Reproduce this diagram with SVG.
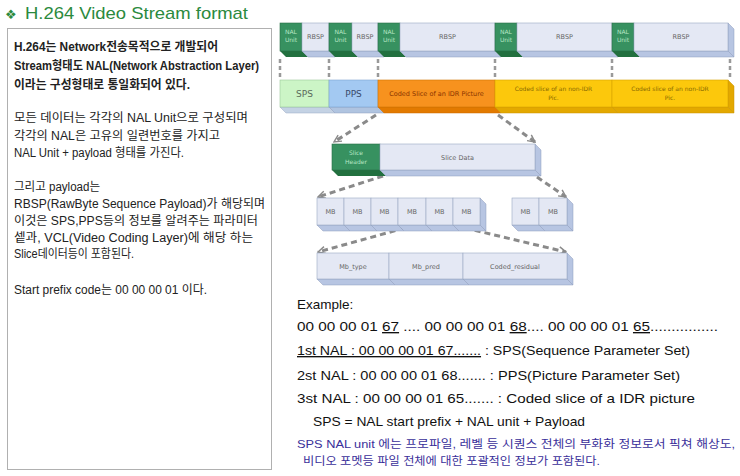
<svg xmlns="http://www.w3.org/2000/svg" width="740" height="476" viewBox="0 0 740 476">
<defs>
<style>
.kr{font-family:'Liberation Sans','Noto Sans CJK KR',sans-serif;font-size:12px;fill:#222}
.b{font-weight:bold}
.ex{font-family:'Liberation Sans','Noto Sans CJK KR',sans-serif;font-size:13.5px;fill:#111}
.note{font-family:'Liberation Sans','Noto Sans CJK KR',sans-serif;font-size:11px;fill:#3a2f9a}
.lbl{font-family:'DejaVu Sans',sans-serif;font-size:6.5px;fill:#666;text-anchor:middle}
.nl{font-family:'DejaVu Sans',sans-serif;font-size:6px;fill:#b6e6c4;text-anchor:middle}
.nal{fill:#379160;stroke:#2a7048;stroke-width:0.6}
.nalb{fill:#22703f}
.rb{fill:#e4e8f4;stroke:#9aa8c4;stroke-width:0.6}
.rbb{fill:#b7c5e2;stroke:#8e9dbc;stroke-width:0.5}
.dv{stroke:#999;stroke-width:2.5;stroke-dasharray:4 3;fill:none}
.dd{stroke:#8a8a8a;stroke-width:3;stroke-dasharray:6 4;fill:none}
</style>
<marker id="ah" viewBox="0 0 10 10" refX="9" refY="5" markerWidth="9" markerHeight="9" markerUnits="userSpaceOnUse" orient="auto">
<path d="M1,1 L9,5 L1,9" fill="none" stroke="#8a8a8a" stroke-width="1.6" stroke-dasharray="none"/>
</marker>
</defs>
<rect width="740" height="476" fill="#fff"/>

<g id="title">
<text x="5" y="19" font-family="'DejaVu Sans',sans-serif" font-size="13" fill="#2b8a3e">❖</text>
<text x="25" y="19" font-family="'Liberation Sans',sans-serif" font-size="17" fill="#2b8a3e" textLength="223" lengthAdjust="spacingAndGlyphs">H.264 Video Stream format</text>
</g>

<g id="left-panel">
<rect x="7.5" y="28.5" width="264" height="441" fill="#fff" stroke="#b0b0b0" stroke-width="1"/>
<text class="kr b" x="14" y="51" textLength="204" lengthAdjust="spacingAndGlyphs">H.264는 Network전송목적으로 개발되어</text>
<text class="kr b" x="14" y="70" textLength="245" lengthAdjust="spacingAndGlyphs">Stream형태도 NAL(Network Abstraction Layer)</text>
<text class="kr b" x="14" y="89" textLength="176" lengthAdjust="spacingAndGlyphs">이라는 구성형태로 통일화되어 있다.</text>
<text class="kr" x="14" y="122" textLength="234" lengthAdjust="spacingAndGlyphs">모든 데이터는 각각의 NAL Unit으로 구성되며</text>
<text class="kr" x="14" y="140" textLength="206" lengthAdjust="spacingAndGlyphs">각각의 NAL은 고유의 일련번호를 가지고</text>
<text class="kr" x="14" y="157" textLength="170" lengthAdjust="spacingAndGlyphs">NAL Unit + payload 형태를 가진다.</text>
<text class="kr" x="14" y="191" textLength="86" lengthAdjust="spacingAndGlyphs">그리고 payload는</text>
<text class="kr" x="14" y="208" textLength="251" lengthAdjust="spacingAndGlyphs">RBSP(RawByte Sequence Payload)가 해당되며</text>
<text class="kr" x="14" y="225" textLength="244" lengthAdjust="spacingAndGlyphs">이것은 SPS,PPS등의 정보를 알려주는 파라미터</text>
<text class="kr" x="14" y="242" textLength="239" lengthAdjust="spacingAndGlyphs">셑과, VCL(Video Coding Layer)에 해당 하는</text>
<text class="kr" x="14" y="258" textLength="120" lengthAdjust="spacingAndGlyphs">Slice데이터등이 포함된다.</text>
<text class="kr" x="14" y="294" textLength="193" lengthAdjust="spacingAndGlyphs">Start prefix code는 00 00 00 01 이다.</text>
</g>

<g id="connectors">
<line class="dv" x1="280" y1="59" x2="280" y2="79"/>
<line class="dv" x1="329" y1="59" x2="329" y2="79"/>
<line class="dv" x1="378" y1="59" x2="378" y2="79"/>
<line class="dv" x1="495" y1="59" x2="495" y2="79"/>
<line class="dv" x1="612" y1="59" x2="612" y2="79"/>
<line class="dv" x1="730" y1="59" x2="730" y2="79"/>
<line class="dd" x1="376" y1="115" x2="334" y2="142" marker-end="url(#ah)"/>
<line class="dd" x1="498" y1="115" x2="535" y2="142" marker-end="url(#ah)"/>
<line class="dd" x1="383" y1="176" x2="318" y2="197" marker-end="url(#ah)"/>
<line class="dd" x1="537" y1="177" x2="566" y2="197" marker-end="url(#ah)"/>
<line class="dd" x1="405" y1="228" x2="318" y2="252" marker-end="url(#ah)"/>
<line class="dd" x1="465" y1="228" x2="566" y2="252" marker-end="url(#ah)"/>
</g>

<g id="nal-stream">
<polygon points="728,23 734,29 734,57 728,51" fill="#b7c5e2" stroke="#8e9dbc" stroke-width="0.5"/>
<polygon class="nalb" points="280,51 302,51 308,57 286,57"/>
<polygon class="rbb" points="302,51 329,51 335,57 308,57"/>
<polygon class="nalb" points="329,51 352,51 358,57 335,57"/>
<polygon class="rbb" points="352,51 378,51 384,57 358,57"/>
<polygon class="nalb" points="378,51 400,51 406,57 384,57"/>
<polygon class="rbb" points="400,51 495,51 501,57 406,57"/>
<polygon class="nalb" points="495,51 517,51 523,57 501,57"/>
<polygon class="rbb" points="517,51 612,51 618,57 523,57"/>
<polygon class="nalb" points="612,51 634,51 640,57 618,57"/>
<polygon class="rbb" points="634,51 728,51 734,57 640,57"/>
<rect class="nal" x="280" y="23" width="22" height="28"/>
<rect class="rb" x="302" y="23" width="27" height="28"/>
<rect class="nal" x="329" y="23" width="23" height="28"/>
<rect class="rb" x="352" y="23" width="26" height="28"/>
<rect class="nal" x="378" y="23" width="22" height="28"/>
<rect class="rb" x="400" y="23" width="95" height="28"/>
<rect class="nal" x="495" y="23" width="22" height="28"/>
<rect class="rb" x="517" y="23" width="95" height="28"/>
<rect class="nal" x="612" y="23" width="22" height="28"/>
<rect class="rb" x="634" y="23" width="94" height="28"/>
<text class="nl" x="291" y="34">NAL</text><text class="nl" x="291" y="42">Unit</text>
<text class="nl" x="340.5" y="34">NAL</text><text class="nl" x="340.5" y="42">Unit</text>
<text class="nl" x="389" y="34">NAL</text><text class="nl" x="389" y="42">Unit</text>
<text class="nl" x="506" y="34">NAL</text><text class="nl" x="506" y="42">Unit</text>
<text class="nl" x="623" y="34">NAL</text><text class="nl" x="623" y="42">Unit</text>
<text class="lbl" x="315.5" y="38.5">RBSP</text>
<text class="lbl" x="365" y="38.5">RBSP</text>
<text class="lbl" x="447.5" y="38.5">RBSP</text>
<text class="lbl" x="564.5" y="38.5">RBSP</text>
<text class="lbl" x="681" y="38.5">RBSP</text>
</g>

<g id="nal-types">
<polygon points="728,80 734,86 734,113 728,107" fill="#e3a800" stroke="#c89200" stroke-width="0.5"/>
<polygon points="280,107 329,107 335,113 286,113" fill="#c4d2e4" stroke="#9aa8c4" stroke-width="0.5"/>
<polygon points="329,107 378,107 384,113 335,113" fill="#b0c4e0" stroke="#8e9dbc" stroke-width="0.5"/>
<polygon points="378,107 495,107 501,113 384,113" fill="#e27a00" stroke="#c86800" stroke-width="0.5"/>
<polygon points="495,107 612,107 618,113 501,113" fill="#e3a800" stroke="#c89200" stroke-width="0.5"/>
<polygon points="612,107 728,107 734,113 618,113" fill="#e3a800" stroke="#c89200" stroke-width="0.5"/>
<rect x="280" y="80" width="49" height="27" fill="#ccf5c6" stroke="#9cc89a" stroke-width="0.6"/>
<rect x="329" y="80" width="49" height="27" fill="#a3c9f2" stroke="#7ea4d0" stroke-width="0.6"/>
<rect x="378" y="80" width="117" height="27" fill="#f7921e" stroke="#d07600" stroke-width="0.6"/>
<rect x="495" y="80" width="117" height="27" fill="#fcc80c" stroke="#d6a400" stroke-width="0.6"/>
<rect x="612" y="80" width="116" height="27" fill="#fcc80c" stroke="#d6a400" stroke-width="0.6"/>
<text x="304.5" y="97" font-family="'DejaVu Sans',sans-serif" font-size="9" fill="#5a6a5a" text-anchor="middle">SPS</text>
<text x="353.5" y="97" font-family="'DejaVu Sans',sans-serif" font-size="9" fill="#3a4a6a" text-anchor="middle">PPS</text>
<text x="436.5" y="96" font-family="'DejaVu Sans',sans-serif" font-size="6.5" fill="#8a3400" text-anchor="middle">Coded Slice of an IDR Picture</text>
<text x="553.5" y="91" font-family="'DejaVu Sans',sans-serif" font-size="6" fill="#8a6a00" text-anchor="middle">Coded slice of an non-IDR</text>
<text x="553.5" y="100" font-family="'DejaVu Sans',sans-serif" font-size="6" fill="#8a6a00" text-anchor="middle">Pic.</text>
<text x="670" y="91" font-family="'DejaVu Sans',sans-serif" font-size="6" fill="#8a6a00" text-anchor="middle">Coded slice of an non-IDR</text>
<text x="670" y="100" font-family="'DejaVu Sans',sans-serif" font-size="6" fill="#8a6a00" text-anchor="middle">Pic.</text>
</g>

<g id="slice">
<polygon points="535,144 541,150 541,176 535,170" fill="#b7c5e2" stroke="#8e9dbc" stroke-width="0.5"/>
<polygon class="nalb" points="332,170 380,170 386,176 338,176"/>
<polygon class="rbb" points="380,170 535,170 541,176 386,176"/>
<rect class="nal" x="332" y="144" width="48" height="26"/>
<rect class="rb" x="380" y="144" width="155" height="26"/>
<text class="nl" x="356" y="155" font-size="6.5">Slice</text>
<text class="nl" x="356" y="164" font-size="6.5">Header</text>
<text class="lbl" x="457.5" y="159.5" font-size="7">Slice Data</text>
</g>

<g id="macroblocks">
<polygon points="480,198 486,204 486,231 480,225" fill="#b7c5e2" stroke="#8e9dbc" stroke-width="0.5"/>
<polygon class="rbb" points="317,225 344,225 350,231 323,231"/>
<polygon class="rbb" points="344,225 371,225 377,231 350,231"/>
<polygon class="rbb" points="371,225 398,225 404,231 377,231"/>
<polygon class="rbb" points="398,225 426,225 432,231 404,231"/>
<polygon class="rbb" points="426,225 453,225 459,231 432,231"/>
<polygon class="rbb" points="453,225 480,225 486,231 459,231"/>
<rect class="rb" x="317" y="198" width="27" height="27"/>
<rect class="rb" x="344" y="198" width="27" height="27"/>
<rect class="rb" x="371" y="198" width="27" height="27"/>
<rect class="rb" x="398" y="198" width="28" height="27"/>
<rect class="rb" x="426" y="198" width="27" height="27"/>
<rect class="rb" x="453" y="198" width="27" height="27"/>
<text class="lbl" x="330.5" y="214">MB</text>
<text class="lbl" x="357.5" y="214">MB</text>
<text class="lbl" x="384.5" y="214">MB</text>
<text class="lbl" x="412" y="214">MB</text>
<text class="lbl" x="439.5" y="214">MB</text>
<text class="lbl" x="466.5" y="214">MB</text>
</g>

<g id="macroblocks-2">
<polygon points="567,198 573,204 573,231 567,225" fill="#b7c5e2" stroke="#8e9dbc" stroke-width="0.5"/>
<polygon class="rbb" points="512,225 539,225 545,231 518,231"/>
<polygon class="rbb" points="539,225 567,225 573,231 545,231"/>
<rect class="rb" x="512" y="198" width="27" height="27"/>
<rect class="rb" x="539" y="198" width="28" height="27"/>
<text class="lbl" x="525.5" y="214">MB</text>
<text class="lbl" x="553" y="214">MB</text>
</g>

<g id="mb-fields">
<polygon points="567,253 573,259 573,285 567,279" fill="#b7c5e2" stroke="#8e9dbc" stroke-width="0.5"/>
<polygon class="rbb" points="317,279 389,279 395,285 323,285"/>
<polygon class="rbb" points="389,279 463,279 469,285 395,285"/>
<polygon class="rbb" points="463,279 567,279 573,285 469,285"/>
<rect class="rb" x="317" y="253" width="72" height="26"/>
<rect class="rb" x="389" y="253" width="74" height="26"/>
<rect class="rb" x="463" y="253" width="104" height="26"/>
<text class="lbl" x="353" y="268.5">Mb_type</text>
<text class="lbl" x="426" y="268.5">Mb_pred</text>
<text class="lbl" x="515" y="268.5">Coded_residual</text>
</g>

<g id="example">
<text class="ex" x="297" y="309">Example:</text>
<text class="ex" x="297" y="331" textLength="421" lengthAdjust="spacingAndGlyphs">00 00 00 01 <tspan text-decoration="underline">67</tspan> .... 00 00 00 01 <tspan text-decoration="underline">68</tspan>.... 00 00 00 01 <tspan text-decoration="underline">65</tspan>................</text>
<text class="ex" x="297" y="355" textLength="393" lengthAdjust="spacingAndGlyphs"><tspan text-decoration="underline">1st NAL : 00 00 00 01 67.......</tspan> : SPS(Sequence Parameter Set)</text>
<text class="ex" x="297" y="380" textLength="383" lengthAdjust="spacingAndGlyphs">2st NAL : 00 00 00 01 68....... : PPS(Picture Parameter Set)</text>
<text class="ex" x="297" y="403" textLength="398" lengthAdjust="spacingAndGlyphs">3st NAL : 00 00 00 01 65....... : Coded slice of a IDR picture</text>
<text class="ex" x="313" y="426" font-size="14" textLength="272" lengthAdjust="spacingAndGlyphs">SPS = NAL start prefix + NAL unit + Payload</text>
<text class="note" x="297" y="448" textLength="438" lengthAdjust="spacingAndGlyphs">SPS NAL unit 에는 프로파일, 레벨 등 시퀀스 전체의 부화화 정보로서 픽쳐 해상도,</text>
<text class="note" x="303" y="465" textLength="297" lengthAdjust="spacingAndGlyphs">비디오 포멧등 파일 전체에 대한 포괄적인 정보가 포함된다.</text>
</g>
</svg>
